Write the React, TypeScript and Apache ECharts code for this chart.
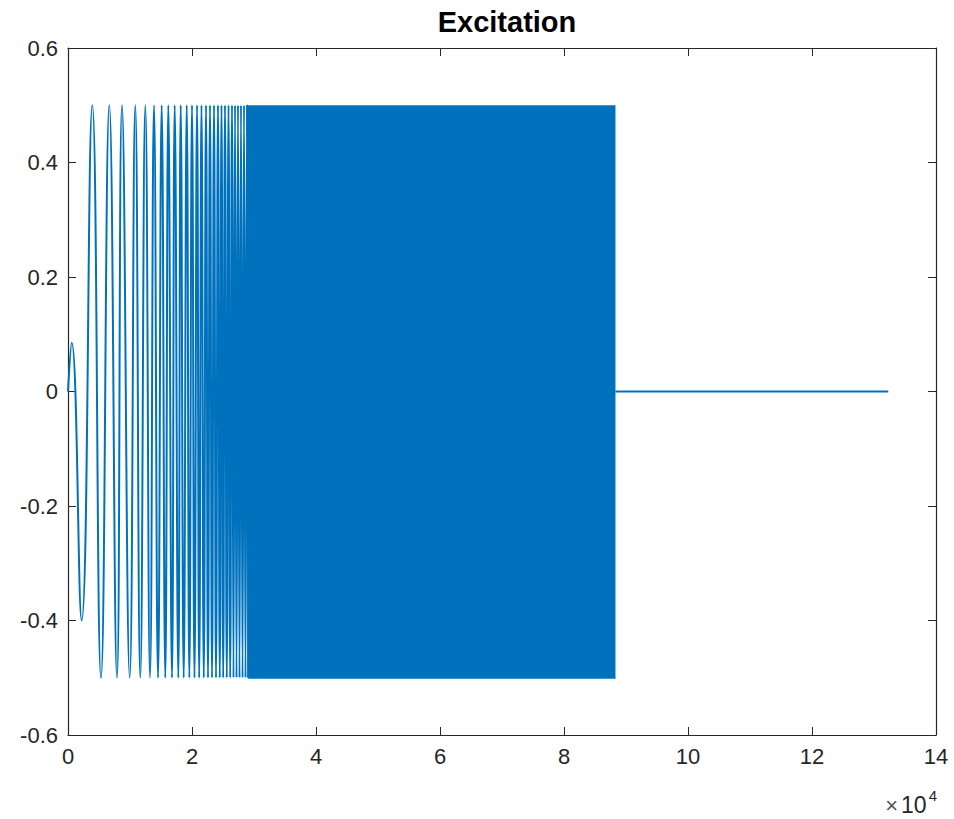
import React, { useEffect, useRef } from "react";
import * as echarts from "echarts";

// ---- data ----
const chartTitle = "Excitation";
const lineColor = "#0072BD";
// leading part of the signal: [x, y]
const startPoints: [number, number][] = [
  [0, 0],
  [600, 0.085],
  [2200, -0.4],
];
const peakValue = 0.5;
const troughValue = -0.5;
// x positions of the positive peaks (0.5)
const peakX = [
  3920, 6660, 8710, 10850, 12470, 13870, 15110, 16180, 17210, 18180, 19150,
  20000, 20810, 21530, 22260, 22900, 23550, 24190, 24760, 25320, 25890, 26450,
  26940, 27420, 27900, 28390, 28870,
];
// x positions of the negative peaks (-0.5)
const troughX = [
  5320, 7900, 9950, 11660, 13230, 14520, 15690, 16770, 17790, 18660, 19570,
  20400, 21160, 21900, 22580, 23230, 23870, 24480, 25030, 25610, 26160, 26690,
  27180, 27660, 28150, 28630, 29110,
];
// region where the oscillation is too dense to resolve (solid band)
const denseStartX = 28900;
const denseEndX = 88300;
// quiet tail after the excitation ends
const tailPoints: [number, number][] = [
  [88300, 0],
  [132300, 0],
];
const xTickValues = [0, 20000, 40000, 60000, 80000, 100000, 120000, 140000];
const yTickLabels = ["-0.6", "-0.4", "-0.2", "0", "0.2", "0.4", "0.6"];

export default function App() {
  const ref = useRef<HTMLDivElement>(null);

  useEffect(() => {
    if (!ref.current) return;
    const chart = echarts.init(ref.current, undefined, { renderer: "svg" });

    const chirp: [number, number][] = [...startPoints];
    for (let i = 0; i < peakX.length; i++) {
      chirp.push([peakX[i], peakValue]);
      if (i < troughX.length) chirp.push([troughX[i], troughValue]);
    }
    chirp.push([denseEndX, troughValue]);

    const axisColor = "#262626";
    const fontFamily = "Liberation Sans, Arial, sans-serif";
    const labelFont = { color: axisColor, fontFamily, fontSize: 22 };
    const commonX = {
      type: "value" as const,
      min: 0,
      max: 140000,
      interval: 20000,
      axisLine: { show: true, onZero: false, lineStyle: { color: axisColor, width: 1.2 } },
      axisTick: { show: true, inside: true, length: 8, lineStyle: { color: axisColor, width: 1 } },
      splitLine: { show: false },
    };
    const commonY = {
      type: "value" as const,
      min: -0.6,
      max: 0.6,
      interval: 0.2,
      axisLine: { show: true, onZero: false, lineStyle: { color: axisColor, width: 1.2 } },
      axisTick: { show: true, inside: true, length: 8, lineStyle: { color: axisColor, width: 1 } },
      splitLine: { show: false },
    };

    chart.setOption({
      animation: false,
      backgroundColor: "#ffffff",
      title: {
        text: chartTitle,
        left: 502,
        top: 2,
        textAlign: "center",
        textStyle: { color: "#000000", fontFamily, fontSize: 29, fontWeight: "bold" },
      },
      grid: { left: 68, right: 18, top: 48, bottom: 84, containLabel: false },
      xAxis: [
        {
          ...commonX,
          position: "bottom",
          axisLabel: {
            ...labelFont,
            margin: 10,
            formatter: (v: number) => (xTickValues.indexOf(v) >= 0 ? String(v / 10000) : ""),
          },
        },
        { ...commonX, position: "top", axisLabel: { show: false } },
      ],
      yAxis: [
        {
          ...commonY,
          position: "left",
          axisLabel: {
            ...labelFont,
            margin: 10,
            formatter: (v: number) => yTickLabels[Math.round((v + 0.6) / 0.2)] ?? "",
          },
        },
        { ...commonY, position: "right", axisLabel: { show: false } },
      ],
      graphic: [
        {
          type: "text",
          right: 17,
          top: 788,
          style: {
            text: "{m|×}{n|10}{s|4}",
            rich: {
              m: { fontSize: 22, fill: "#555555", fontFamily, verticalAlign: "bottom", padding: [0, 3, 0, 0] },
              n: { fontSize: 23, fill: axisColor, fontFamily, verticalAlign: "bottom" },
              s: { fontSize: 15, fill: axisColor, fontFamily, verticalAlign: "top", padding: [0, 0, 13, 2] },
            },
          },
        },
      ],
      series: [
        {
          type: "line",
          xAxisIndex: 0,
          yAxisIndex: 0,
          data: chirp,
          showSymbol: false,
          smooth: 0.5,
          lineStyle: { color: lineColor, width: 2 },
          itemStyle: { color: lineColor },
          markArea: {
            silent: true,
            itemStyle: { color: lineColor, opacity: 1 },
            data: [[{ coord: [denseStartX, troughValue] }, { coord: [denseEndX, peakValue] }]],
          },
        },
        {
          type: "line",
          xAxisIndex: 0,
          yAxisIndex: 0,
          data: tailPoints,
          showSymbol: false,
          lineStyle: { color: lineColor, width: 1.8 },
          itemStyle: { color: lineColor },
        },
      ],
    });

    return () => chart.dispose();
  }, []);

  return (
    <div
      ref={ref}
      style={{ position: "fixed", left: 0, top: 0, width: 954, height: 819, background: "#fff" }}
    />
  );
}
